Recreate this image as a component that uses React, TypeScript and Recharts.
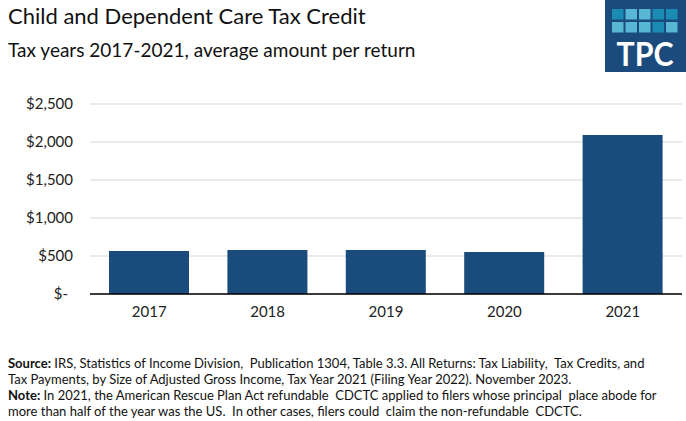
import React from 'react';
import { BarChart, Bar, XAxis, YAxis, CartesianGrid } from 'recharts';

const years = ['2017', '2018', '2019', '2020', '2021'];
const avgCredit = [566, 579, 579, 553, 2092];
const yTicks = [0, 500, 1000, 1500, 2000, 2500];

const data = years.map((year, i) => ({ year, value: avgCredit[i] }));

const FONT = 'Lato, "Noto Sans", sans-serif';
const BAR = '#194b7c';

const YTick = (props: any) => {
  const { x, y, payload } = props;
  const v = payload.value;
  const label = v === 0 ? '$-' : '$' + v.toLocaleString('en-US');
  return (
    <text x={x} y={y} dx={v === 0 ? -5 : 0} dy={5} textAnchor="end" fill="#222" fontSize={15} fontFamily={FONT}>
      {label}
    </text>
  );
};

const Logo = () => (
  <svg width={81} height={72} style={{ position: 'absolute', left: 605, top: 0 }}>
    <rect x={0} y={0} width={81} height={72} fill="#1b4b7c" />
    {[0, 1].map((r) =>
      [0, 1, 2, 3, 4].map((c) => {
        const dark = r === 0 ? [true, false, false, true, true][c] : [false, false, false, true, false][c];
        return (
          <rect key={r + '-' + c} x={7 + c * 13.5} y={9 + r * 13} width={11.5} height={10.5} fill={dark ? '#1a8cb3' : '#58b8d4'} />
        );
      })
    )}
    <text x={40} y={66} textAnchor="middle" fill="#fff" fontSize={33} fontWeight={700} fontFamily={FONT} transform="translate(40 0) scale(0.92 1) translate(-40 0)">TPC</text>
  </svg>
);

export default function App() {
  return (
    <div style={{ position: 'absolute', left: 0, top: 0, width: 686, height: 421, background: '#fff', fontFamily: FONT, color: '#111' }}>
      <div style={{ position: 'absolute', left: 8, top: 2, fontSize: 22 }}>Child and Dependent Care Tax Credit</div>
      <div style={{ position: 'absolute', left: 8, top: 38, fontSize: 19 }}>Tax years 2017-2021, average amount per return</div>
      <Logo />
      <div style={{ position: 'absolute', left: 0, top: 0 }}>
        <BarChart width={686} height={330} data={data} margin={{ top: 104, right: 4, bottom: 6, left: 0 }} barSize={80}>
          <CartesianGrid vertical={false} stroke="#e3e3e3" strokeWidth={1.5} />
          <XAxis
            dataKey="year"
            height={30}
            tickLine={false}
            axisLine={{ stroke: '#000', strokeWidth: 1.5 }}
            tick={{ fill: '#222', fontSize: 15, fontFamily: FONT }}
            tickMargin={6}
          />
          <YAxis
            width={90}
            domain={[0, 2500]}
            ticks={yTicks}
            axisLine={false}
            tickLine={false}
            tickMargin={11}
            tick={<YTick />}
          />
          <Bar dataKey="value" fill={BAR} isAnimationActive={false} />
        </BarChart>
      </div>
      <div style={{ position: 'absolute', left: 8, top: 355, width: 680, fontSize: 13, lineHeight: '16px' }}>
        <div>
          <b>Source:</b> IRS, Statistics of Income Division,&nbsp; Publication 1304, Table 3.3. All Returns: Tax Liability,&nbsp; Tax Credits, and
        </div>
        <div>Tax Payments, by Size of Adjusted Gross Income, Tax Year 2021 (Filing Year 2022). November 2023.</div>
        <div>
          <b>Note:</b> In 2021, the American Rescue Plan Act refundable&nbsp; CDCTC applied to filers whose principal&nbsp; place abode for
        </div>
        <div>more than half of the year was the US.&nbsp; In other cases, filers could&nbsp; claim the non-refundable&nbsp; CDCTC.</div>
      </div>
    </div>
  );
}
